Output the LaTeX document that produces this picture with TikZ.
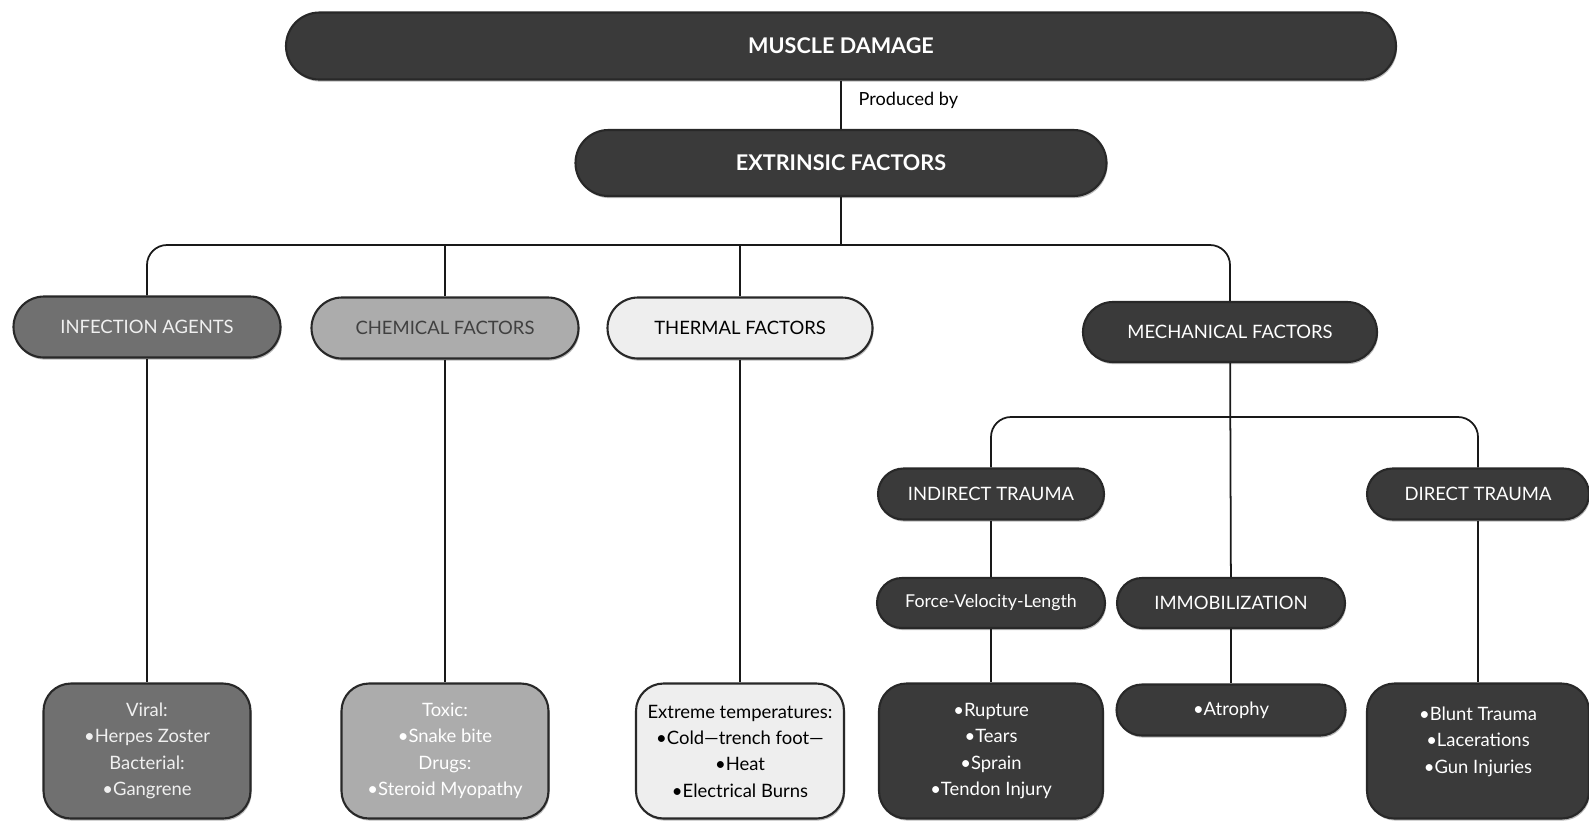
\documentclass[tikz,border=0pt]{standalone}
\usepackage{fontspec}
\setmainfont{Lato}
\usetikzlibrary{positioning,calc,shadows}
\definecolor{dkf}{RGB}{58,58,58}
\definecolor{mdf}{RGB}{112,112,112}
\definecolor{ltf}{RGB}{172,172,172}
\definecolor{wtf}{RGB}{238,238,238}
\definecolor{bdr}{RGB}{40,40,40}
\definecolor{lnc}{RGB}{25,25,25}
\tikzset{
  dk/.style={rectangle,rounded corners=0.5cm,draw=bdr,line width=1.2pt,fill=dkf,
    text=white,minimum width=#1,minimum height=1.0cm,align=center,
    font=\fontsize{10.5}{15}\selectfont,inner sep=2pt,
    drop shadow={shadow xshift=0.6pt,shadow yshift=-1.2pt,fill=black!60,opacity=0.45}},
  dk/.default=4.5cm,
  gr/.style={dk=#1,fill=mdf,text=white!94!black},
  gr/.default=5.3cm,
  lg/.style={dk=#1,fill=ltf,text=black!75},
  lg/.default=5.3cm,
  wt/.style={dk=#1,fill=wtf,text=black},
  wt/.default=5.3cm,
  bx/.style={rounded corners=0.55cm,minimum height=2.7cm},
  hd/.style={font=\fontsize{12.3}{15}\selectfont\bfseries},
  ln/.style={draw=lnc,line width=1pt},
}
\begin{document}
\begin{tikzpicture}
  \useasboundingbox (0,0) rectangle (31.78,-16.44);
  % Top of the tree
  \node[dk=22.2cm,minimum height=1.34cm,rounded corners=0.67cm,hd] (md)
    at (16.82,-0.92) {MUSCLE DAMAGE};
  \node[dk=10.62cm,minimum height=1.32cm,rounded corners=0.66cm,hd] (ef)
    at (16.82,-3.26) {EXTRINSIC FACTORS};
  \draw[ln] (md) -- (ef) node[pos=0.42,right=0.22cm,text=black,font=\fontsize{10.3}{12}\selectfont] (pb) {Produced by};

  % Four kinds of factors
  \coordinate (bus) at (16.82,-4.90);
  \node[gr=5.34cm,minimum height=1.22cm,rounded corners=0.61cm] (ia) at (2.94,-6.54) {INFECTION AGENTS};
  \node[lg=5.34cm,minimum height=1.22cm,rounded corners=0.61cm] (cf) at (8.90,-6.56) {CHEMICAL FACTORS};
  \node[wt=5.30cm,minimum height=1.22cm,rounded corners=0.61cm] (tf) at (14.80,-6.56) {THERMAL FACTORS};
  \node[dk=5.88cm,minimum height=1.20cm,rounded corners=0.60cm] (mf) at (24.60,-6.64) {MECHANICAL FACTORS};

  \draw[ln] (ef) -- (bus);
  \draw[ln,rounded corners=0.4cm] (ia.north) |- (bus) -| (mf.north);
  \draw[ln] (cf.north) -- (cf.north |- bus);
  \draw[ln] (tf.north) -- (tf.north |- bus);

  % Mechanical branch
  \coordinate (sbus) at (24.60,-8.34);
  \node[dk=4.52cm,minimum height=1.02cm,rounded corners=0.51cm] (it) at (19.82,-9.88) {INDIRECT TRAUMA};
  \node[dk=4.44cm,minimum height=1.02cm,rounded corners=0.51cm] (dt) at (29.56,-9.88) {DIRECT TRAUMA};
  \node[dk=4.56cm,font=\fontsize{10.1}{15}\selectfont] (fvl) at (19.82,-12.06) {Force-Velocity-Length};
  \node[dk=4.56cm] (im) at (24.62,-12.06) {IMMOBILIZATION};
  \draw[ln,rounded corners=0.4cm] (it.north) |- (sbus) -| (dt.north);
  \draw[ln] (mf) -- (im);
  \draw[ln] (it) -- (fvl);

  % Bottom boxes
  \node[gr=4.14cm,bx] (vb) at (2.94,-15.02) {Viral:\\•Herpes Zoster\\Bacterial:\\•Gangrene};
  \node[lg=4.14cm,bx,text=white] (tb) at (8.90,-15.02) {Toxic:\\•Snake bite\\Drugs:\\•Steroid Myopathy};
  \node[wt=4.16cm,bx] (eb) at (14.80,-15.02) {Extreme temperatures:\\•Cold—trench foot—\\•Heat\\•Electrical Burns};
  \node[dk=4.48cm,bx] (rb) at (19.82,-15.02) {•Rupture\\•Tears\\•Sprain\\•Tendon Injury};
  \node[dk=4.58cm,minimum height=1.02cm,rounded corners=0.51cm] (ab) at (24.62,-14.20) {•Atrophy};
  \node[dk=4.44cm,bx] (bb) at (29.56,-15.02) {•Blunt Trauma\\•Lacerations\\•Gun Injuries\\[-7pt]\strut};

  \draw[ln] (ia) -- (vb);
  \draw[ln] (cf) -- (tb);
  \draw[ln] (tf) -- (eb);
  \draw[ln] (fvl) -- (rb);
  \draw[ln] (im) -- (ab);
  \draw[ln] (dt) -- (bb);
\end{tikzpicture}
\end{document}
